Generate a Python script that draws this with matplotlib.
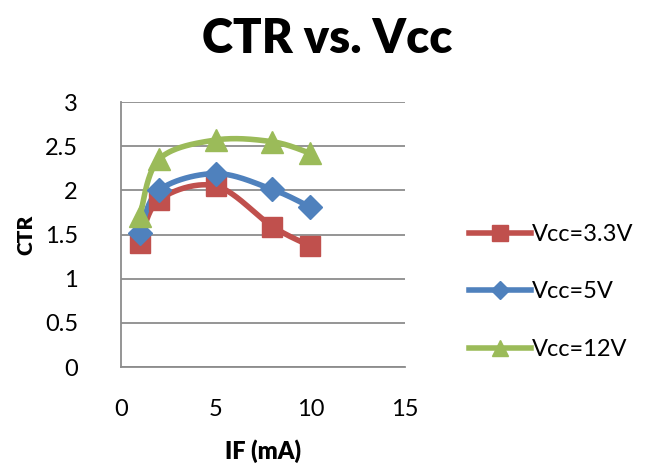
"""
CTR versus forward current for three supply voltages, Excel-style smoothed lines.
"""

import matplotlib
matplotlib.use("Agg")
import matplotlib.pyplot as plt
import numpy as np
from matplotlib.lines import Line2D

plt.rcParams.update({
    "font.family": ["Lato", "DejaVu Sans"],
    "font.size": 16,
})

# forward current (mA)
if_ma = [1, 2, 5, 8, 10]

ctr_3v3 = [1.40, 1.89, 2.05, 1.59, 1.37]
ctr_5v = [1.52, 2.00, 2.19, 2.01, 1.81]
ctr_12v = [1.71, 2.35, 2.57, 2.55, 2.42]

series_labels = ["Vcc=3.3V", "Vcc=5V", "Vcc=12V"]
x_ticks = [0, 5, 10, 15]
y_ticks = [0, 0.5, 1, 1.5, 2, 2.5, 3]

RED = "#C0504D"
BLUE = "#4F81BD"
GREEN = "#9BBB59"


def smooth_curve(x, y, n=40):
    """Catmull-Rom style cubic Bezier through the points (Excel 'smoothed line')."""
    pts = np.column_stack([x, y]).astype(float)
    padded = np.vstack([pts[0], pts, pts[-1]])
    out = []
    t = np.linspace(0.0, 1.0, n)[:, None]
    for i in range(1, len(padded) - 2):
        p0, p1, p2, p3 = padded[i - 1], padded[i], padded[i + 1], padded[i + 2]
        c1 = p1 + (p2 - p0) / 6.0
        c2 = p2 - (p3 - p1) / 6.0
        seg = ((1 - t) ** 3) * p1 + 3 * ((1 - t) ** 2) * t * c1 \
            + 3 * (1 - t) * t ** 2 * c2 + t ** 3 * p2
        out.append(seg if i == 1 else seg[1:])
    curve = np.vstack(out)
    return curve[:, 0], curve[:, 1]


fig = plt.figure(figsize=(6.55, 4.74), dpi=100)
ax = fig.add_axes([0.1847, 0.2257, 0.4336, 0.5591])

styles = [
    (ctr_3v3, RED, "s", 15),
    (ctr_5v, BLUE, "D", 12),
    (ctr_12v, GREEN, "^", 16),
]
handles = []
for (vals, color, marker, ms), label in zip(styles, series_labels):
    sx, sy = smooth_curve(if_ma, vals)
    ax.plot(sx, sy, color=color, lw=4, solid_capstyle="round", zorder=2)
    ax.plot(if_ma, vals, linestyle="none", marker=marker, ms=ms,
            color=color, mec=color, zorder=3)
    handles.append(Line2D([0], [0], color=color, lw=4, marker=marker,
                          ms=ms * 0.75, mec=color, label=label))

ax.set_xlim(0, 15)
ax.set_ylim(0, 3)
ax.set_xticks(x_ticks)
ax.set_yticks(y_ticks)
ax.set_yticklabels([f"{v:g}" for v in y_ticks])
ax.tick_params(length=0, labelsize=17)
ax.tick_params(axis="x", pad=23)
ax.tick_params(axis="y", pad=31)
ax.yaxis.grid(True, color="#8C8C8C", lw=1.3)
ax.set_axisbelow(True)
for side in ("top", "right"):
    ax.spines[side].set_visible(False)
for side in ("left", "bottom"):
    ax.spines[side].set_color("#8C8C8C")
    ax.spines[side].set_linewidth(1.3)

ax.set_xlabel("IF (mA)", fontsize=17, fontweight="heavy", labelpad=14)
ax.set_ylabel("CTR", fontsize=15, fontweight="heavy", labelpad=7)

fig.text(0.5, 0.918, "CTR vs. Vcc", ha="center", va="center",
         fontsize=34, fontweight="heavy")

fig.legend(handles=handles, loc="center left", bbox_to_anchor=(0.684, 0.384),
           frameon=False, fontsize=17, handlelength=2.6, handletextpad=0.05,
           labelspacing=1.55)

fig.savefig("out.png", dpi=100)
